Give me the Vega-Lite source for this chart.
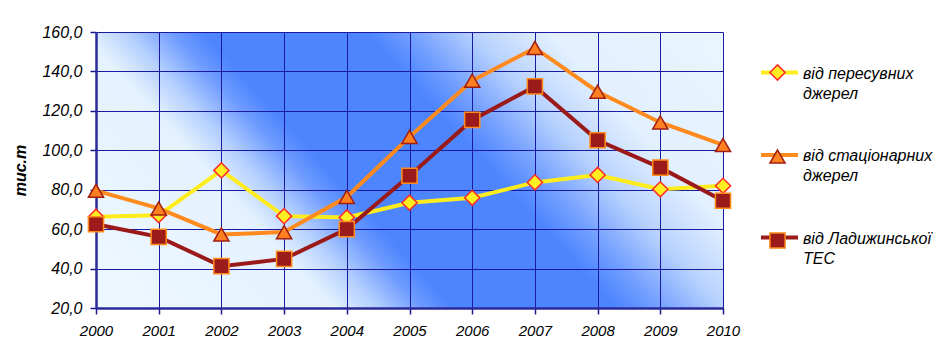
{
  "$schema": "https://vega.github.io/schema/vega-lite/v6.json",
  "width": 627,
  "height": 276,
  "autosize": "none",
  "padding": {"left": 96, "top": 32, "right": 225, "bottom": 56},
  "background": "white",
  "config": {"font": "Liberation Sans", "view": {"stroke": null}},
  "view": {
    "stroke": null,
    "fill": {
      "gradient": "linear", "x1": 0, "y1": 1, "x2": 1.207, "y2": 0.517,
      "stops": [
        {"offset": 0, "color": "#eef8ff"},
        {"offset": 0.271, "color": "#e4f2ff"},
        {"offset": 0.321, "color": "#b4cfff"},
        {"offset": 0.371, "color": "#6f9cfe"},
        {"offset": 0.407, "color": "#4d85ff"},
        {"offset": 0.593, "color": "#4d85ff"},
        {"offset": 0.643, "color": "#74a0ff"},
        {"offset": 0.714, "color": "#b8d2ff"},
        {"offset": 0.8, "color": "#e2f0ff"},
        {"offset": 1, "color": "#eaf6ff"}
      ]
    }
  },
  "data": {
    "values": [
      {"year": 2000, "series": "від пересувних джерел", "value": 66.3},
      {"year": 2001, "series": "від пересувних джерел", "value": 67.1},
      {"year": 2002, "series": "від пересувних джерел", "value": 89.8},
      {"year": 2003, "series": "від пересувних джерел", "value": 66.6},
      {"year": 2004, "series": "від пересувних джерел", "value": 65.9},
      {"year": 2005, "series": "від пересувних джерел", "value": 73.4},
      {"year": 2006, "series": "від пересувних джерел", "value": 75.9},
      {"year": 2007, "series": "від пересувних джерел", "value": 83.7},
      {"year": 2008, "series": "від пересувних джерел", "value": 87.5},
      {"year": 2009, "series": "від пересувних джерел", "value": 80.2},
      {"year": 2010, "series": "від пересувних джерел", "value": 82.0},
      {"year": 2000, "series": "від стаціонарних джерел", "value": 79.5},
      {"year": 2001, "series": "від стаціонарних джерел", "value": 70.5},
      {"year": 2002, "series": "від стаціонарних джерел", "value": 57.3},
      {"year": 2003, "series": "від стаціонарних джерел", "value": 58.5},
      {"year": 2004, "series": "від стаціонарних джерел", "value": 76.3},
      {"year": 2005, "series": "від стаціонарних джерел", "value": 106.8},
      {"year": 2006, "series": "від стаціонарних джерел", "value": 135.3},
      {"year": 2007, "series": "від стаціонарних джерел", "value": 151.9},
      {"year": 2008, "series": "від стаціонарних джерел", "value": 129.7},
      {"year": 2009, "series": "від стаціонарних джерел", "value": 114.1},
      {"year": 2010, "series": "від стаціонарних джерел", "value": 102.7},
      {"year": 2000, "series": "від Ладижинської ТЕС", "value": 62.5},
      {"year": 2001, "series": "від Ладижинської ТЕС", "value": 56.1},
      {"year": 2002, "series": "від Ладижинської ТЕС", "value": 41.2},
      {"year": 2003, "series": "від Ладижинської ТЕС", "value": 44.9},
      {"year": 2004, "series": "від Ладижинської ТЕС", "value": 60.0},
      {"year": 2005, "series": "від Ладижинської ТЕС", "value": 87.1},
      {"year": 2006, "series": "від Ладижинської ТЕС", "value": 115.4},
      {"year": 2007, "series": "від Ладижинської ТЕС", "value": 132.4},
      {"year": 2008, "series": "від Ладижинської ТЕС", "value": 105.1},
      {"year": 2009, "series": "від Ладижинської ТЕС", "value": 91.2},
      {"year": 2010, "series": "від Ладижинської ТЕС", "value": 74.4}
    ]
  },
  "encoding": {
    "x": {
      "field": "year", "type": "quantitative",
      "scale": {"domain": [2000, 2010], "nice": false, "zero": false},
      "axis": {
        "values": [2000, 2001, 2002, 2003, 2004, 2005, 2006, 2007, 2008, 2009, 2010],
        "format": "d", "title": null, "labelFlush": false, "labelOverlap": false,
        "labelFont": "Liberation Sans", "labelFontStyle": "italic", "labelFontSize": 15,
        "labelColor": "#000000", "labelPadding": 9,
        "tickSize": 6, "tickColor": "#1a1a8c", "tickWidth": 1.5,
        "domainColor": "#2a2a9a", "domainWidth": 2.5,
        "grid": true, "gridColor": "#1a1aa0", "gridWidth": 1, "gridOpacity": 1
      }
    },
    "y": {
      "field": "value", "type": "quantitative",
      "scale": {"domain": [20, 160], "nice": false, "zero": false},
      "axis": {
        "values": [20, 40, 60, 80, 100, 120, 140, 160],
        "labelExpr": "replace(format(datum.value, '.1f'), '.', ',')",
        "labelFont": "Liberation Sans", "labelFontStyle": "italic", "labelFontSize": 16,
        "labelColor": "#000000", "labelPadding": 8,
        "tickSize": 6, "tickColor": "#1a1a8c", "tickWidth": 1.5,
        "domainColor": "#2a2a9a", "domainWidth": 2.5,
        "grid": true, "gridColor": "#1a1aa0", "gridWidth": 1, "gridOpacity": 1,
        "title": "тис.т", "titleFont": "Liberation Sans", "titleFontStyle": "italic",
        "titleFontWeight": "bold", "titleFontSize": 16, "titleColor": "#000000",
        "titleAngle": -90, "titleX": -71, "titleY": 138, "titleAlign": "center",
        "titleBaseline": "alphabetic"
      }
    }
  },
  "layer": [
    {
      "mark": {"type": "line"},
      "encoding": {
        "color": {
          "field": "series", "type": "nominal",
          "scale": {
            "domain": ["від пересувних джерел", "від стаціонарних джерел", "від Ладижинської ТЕС"],
            "range": ["#ffec1c", "#ff8a1e", "#9a1a1a"]
          },
          "legend": {
            "orient": "none", "legendX": 663, "legendY": 20, "title": null,
            "symbolType": "stroke", "symbolSize": 1369, "symbolStrokeWidth": 3.5,
            "labelOffset": 3, "padding": 0, "rowPadding": 32.5,
            "labelExpr": "[slice(datum.label, 0, lastindexof(datum.label, ' ')), slice(datum.label, lastindexof(datum.label, ' ') + 1)]",
            "labelFont": "Liberation Sans", "labelFontSize": 16, "labelFontStyle": "italic",
            "labelColor": "#000000", "labelBaseline": "alphabetic", "labelLimit": 300,
            "encode": {"labels": {"update": {"lineHeight": {"value": 20}, "dy": {"value": 6}}}}
          }
        },
        "strokeWidth": {
          "field": "series", "type": "nominal",
          "scale": {
            "domain": ["від пересувних джерел", "від стаціонарних джерел", "від Ладижинської ТЕС"],
            "range": [4, 4, 2.5]
          },
          "legend": null
        }
      }
    },
    {
      "mark": {"type": "point", "filled": true, "opacity": 1, "size": 230, "strokeWidth": 1.5},
      "encoding": {
        "shape": {
          "field": "series", "type": "nominal",
          "sort": ["від пересувних джерел", "від стаціонарних джерел", "від Ладижинської ТЕС"],
          "scale": {"range": ["diamond", "triangle-up", "square"]},
          "legend": null
        },
        "stroke": {
          "field": "series", "type": "nominal",
          "sort": ["від пересувних джерел", "від стаціонарних джерел", "від Ладижинської ТЕС"],
          "scale": {"range": ["#ff2a2a", "#a01e10", "#ff8c1a"]},
          "legend": null
        },
        "fill": {
          "field": "series", "type": "nominal",
          "sort": ["від пересувних джерел", "від стаціонарних джерел", "від Ладижинської ТЕС"],
          "scale": {"range": ["#ffee22", "#ff8020", "#9b1b1b"]},
          "legend": {
            "orient": "none", "legendX": 673, "legendY": 32, "title": null,
            "symbolSize": 230, "symbolStrokeWidth": 1.5, "symbolOpacity": 1,
            "padding": 0, "rowPadding": 62,
            "labelExpr": "''",
            "labelFontSize": 16, "labelLimit": 300,
            "encode": {
              "symbols": {"update": {
                "shape": {"signal": "datum.value === 'від пересувних джерел' ? 'diamond' : datum.value === 'від стаціонарних джерел' ? 'triangle-up' : 'square'"},
                "stroke": {"signal": "datum.value === 'від пересувних джерел' ? '#ff2a2a' : datum.value === 'від стаціонарних джерел' ? '#a01e10' : '#ff8c1a'"},
                "strokeWidth": {"value": 1.5}
              }}
            }
          }
        }
      }
    }
  ]
}
